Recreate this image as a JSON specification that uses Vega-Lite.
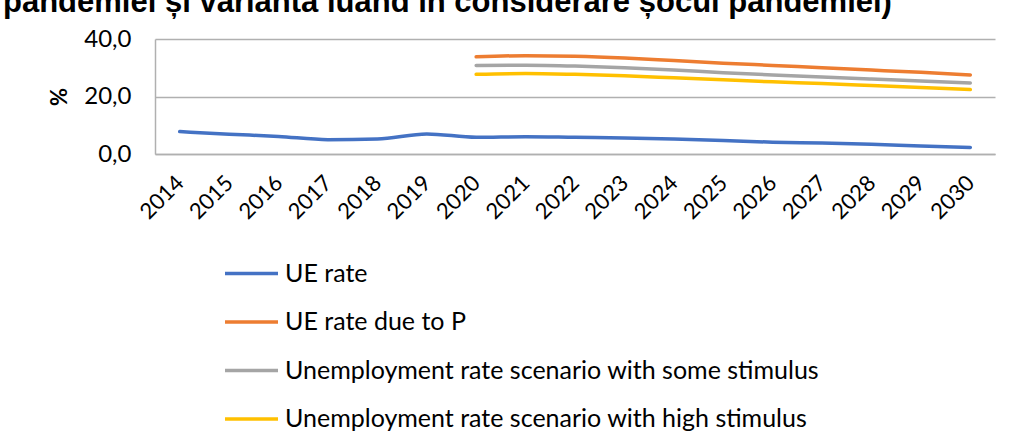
{
  "$schema": "https://vega.github.io/schema/vega-lite/v6.json",
  "autosize": {"type": "none"},
  "width": 840,
  "height": 115,
  "padding": {"left": 155, "top": 39, "right": 17, "bottom": 293},
  "background": "white",
  "title": {
    "text": "pandemiei și varianta luând în considerare șocul pandemiei)",
    "anchor": "start",
    "frame": "group",
    "font": "Liberation Sans",
    "fontSize": 31,
    "fontWeight": "bold",
    "color": "#000000",
    "baseline": "alphabetic",
    "offset": 7,
    "dy": 23,
    "dx": -152
  },
  "data": {
    "values": [
      {"year": "2014", "series": "UE rate", "value": 7.8},
      {"year": "2015", "series": "UE rate", "value": 6.9},
      {"year": "2016", "series": "UE rate", "value": 6.1},
      {"year": "2017", "series": "UE rate", "value": 5.0},
      {"year": "2018", "series": "UE rate", "value": 5.2},
      {"year": "2019", "series": "UE rate", "value": 7.0},
      {"year": "2020", "series": "UE rate", "value": 5.8},
      {"year": "2021", "series": "UE rate", "value": 6.0},
      {"year": "2022", "series": "UE rate", "value": 5.8},
      {"year": "2023", "series": "UE rate", "value": 5.6},
      {"year": "2024", "series": "UE rate", "value": 5.2},
      {"year": "2025", "series": "UE rate", "value": 4.7},
      {"year": "2026", "series": "UE rate", "value": 4.1},
      {"year": "2027", "series": "UE rate", "value": 3.8},
      {"year": "2028", "series": "UE rate", "value": 3.4},
      {"year": "2029", "series": "UE rate", "value": 2.8},
      {"year": "2030", "series": "UE rate", "value": 2.3},
      {"year": "2020", "series": "UE rate due to P", "value": 33.8},
      {"year": "2021", "series": "UE rate due to P", "value": 34.2},
      {"year": "2022", "series": "UE rate due to P", "value": 34.0},
      {"year": "2023", "series": "UE rate due to P", "value": 33.4},
      {"year": "2024", "series": "UE rate due to P", "value": 32.5},
      {"year": "2025", "series": "UE rate due to P", "value": 31.6},
      {"year": "2026", "series": "UE rate due to P", "value": 30.8},
      {"year": "2027", "series": "UE rate due to P", "value": 30.0},
      {"year": "2028", "series": "UE rate due to P", "value": 29.2},
      {"year": "2029", "series": "UE rate due to P", "value": 28.4},
      {"year": "2030", "series": "UE rate due to P", "value": 27.5},
      {"year": "2020", "series": "Unemployment rate scenario with some stimulus", "value": 30.8},
      {"year": "2021", "series": "Unemployment rate scenario with some stimulus", "value": 30.9},
      {"year": "2022", "series": "Unemployment rate scenario with some stimulus", "value": 30.6},
      {"year": "2023", "series": "Unemployment rate scenario with some stimulus", "value": 30.0},
      {"year": "2024", "series": "Unemployment rate scenario with some stimulus", "value": 29.2},
      {"year": "2025", "series": "Unemployment rate scenario with some stimulus", "value": 28.3},
      {"year": "2026", "series": "Unemployment rate scenario with some stimulus", "value": 27.5},
      {"year": "2027", "series": "Unemployment rate scenario with some stimulus", "value": 26.8},
      {"year": "2028", "series": "Unemployment rate scenario with some stimulus", "value": 26.1},
      {"year": "2029", "series": "Unemployment rate scenario with some stimulus", "value": 25.4},
      {"year": "2030", "series": "Unemployment rate scenario with some stimulus", "value": 24.7},
      {"year": "2020", "series": "Unemployment rate scenario with high stimulus", "value": 27.7},
      {"year": "2021", "series": "Unemployment rate scenario with high stimulus", "value": 28.0},
      {"year": "2022", "series": "Unemployment rate scenario with high stimulus", "value": 27.7},
      {"year": "2023", "series": "Unemployment rate scenario with high stimulus", "value": 27.2},
      {"year": "2024", "series": "Unemployment rate scenario with high stimulus", "value": 26.5},
      {"year": "2025", "series": "Unemployment rate scenario with high stimulus", "value": 25.8},
      {"year": "2026", "series": "Unemployment rate scenario with high stimulus", "value": 25.1},
      {"year": "2027", "series": "Unemployment rate scenario with high stimulus", "value": 24.5},
      {"year": "2028", "series": "Unemployment rate scenario with high stimulus", "value": 23.8},
      {"year": "2029", "series": "Unemployment rate scenario with high stimulus", "value": 23.1},
      {"year": "2030", "series": "Unemployment rate scenario with high stimulus", "value": 22.4}
    ]
  },
  "mark": {"type": "line", "strokeWidth": 3.5, "interpolate": "monotone", "strokeCap": "round"},
  "encoding": {
    "x": {
      "field": "year",
      "type": "ordinal",
      "scale": {"type": "point", "padding": 0.5},
      "axis": {
        "title": null,
        "labelAngle": -45,
        "labelAlign": "right",
        "labelBaseline": "middle",
        "labelFont": "Lato",
        "labelFontSize": 22,
        "labelColor": "#000000",
        "labelPadding": 25,
        "labelDx": 0,
        "labelDy": 8,
        "ticks": false,
        "domainColor": "#b0b0b0",
        "domainWidth": 1.5,
        "grid": false
      }
    },
    "y": {
      "field": "value",
      "type": "quantitative",
      "scale": {"domain": [0, 40], "nice": false},
      "axis": {
        "title": "%",
        "titleFont": "Lato",
        "titleFontSize": 22,
        "titleFontWeight": "bold",
        "titleColor": "#000000",
        "titlePadding": 12,
        "values": [0, 20, 40],
        "labelExpr": "replace(format(datum.value, '.1f'), '.', ',')",
        "labelFont": "Lato",
        "labelFontSize": 24,
        "labelColor": "#000000",
        "labelPadding": 24,
        "ticks": false,
        "domainColor": "#b0b0b0",
        "domainWidth": 1.5,
        "grid": true,
        "gridColor": "#b0b0b0",
        "gridWidth": 1.5
      }
    },
    "color": {
      "field": "series",
      "type": "nominal",
      "sort": ["UE rate", "UE rate due to P", "Unemployment rate scenario with some stimulus", "Unemployment rate scenario with high stimulus"],
      "scale": {
        "domain": ["UE rate", "UE rate due to P", "Unemployment rate scenario with some stimulus", "Unemployment rate scenario with high stimulus"],
        "range": ["#4472C4", "#ED7D31", "#A5A5A5", "#FFC000"]
      },
      "legend": {
        "title": null,
        "orient": "none",
        "legendX": 68,
        "legendY": 206,
        "direction": "vertical",
        "symbolType": "stroke",
        "symbolSize": 2809,
        "symbolStrokeWidth": 3.5,
        "labelFont": "Lato",
        "labelFontSize": 25,
        "labelColor": "#000000",
        "labelOffset": 5,
        "labelLimit": 0,
        "rowPadding": 6.5
      }
    }
  },
  "config": {
    "view": {"stroke": null}
  }
}
